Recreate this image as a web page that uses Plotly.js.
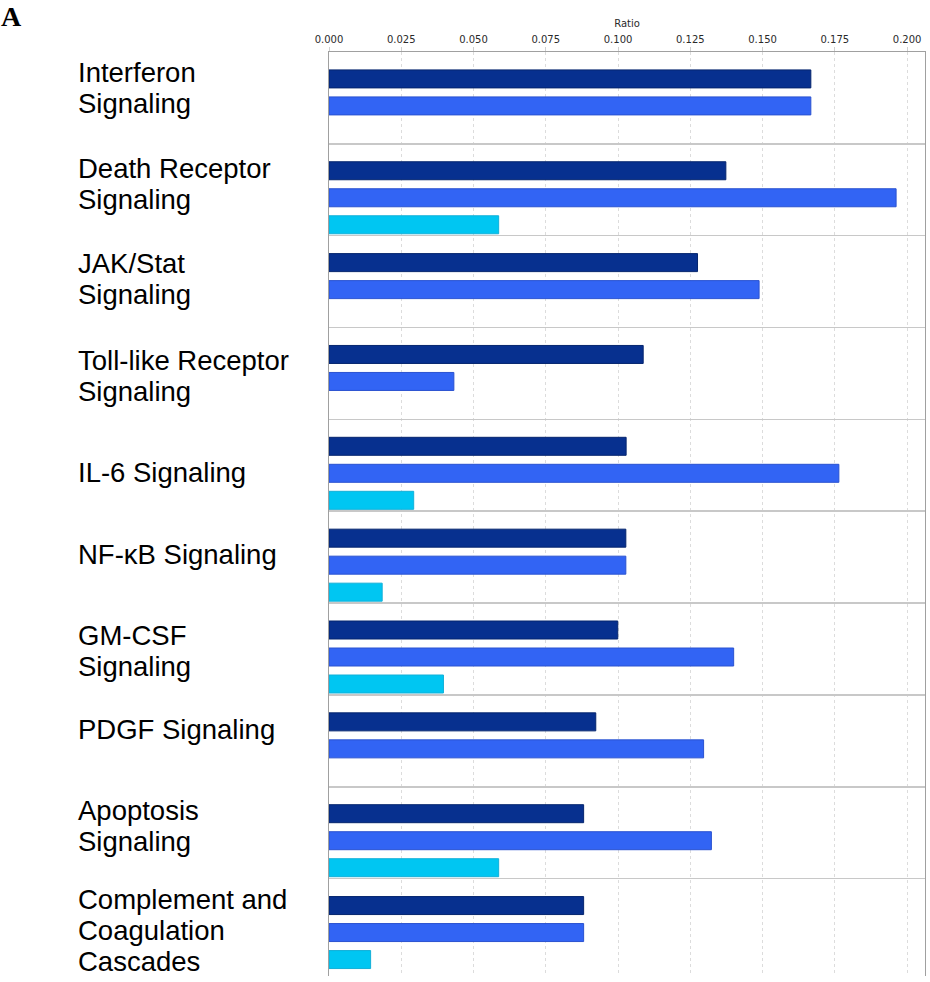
<!DOCTYPE html>
<html>
<head>
<meta charset="utf-8">
<script src="https://cdn.plot.ly/plotly-3.0.1.min.js"></script>
<style>
  html, body { margin: 0; padding: 0; background: #ffffff; }
  #chart { width: 930px; height: 982px; }
</style>
</head>
<body>
<div id="chart"></div>
<script>
// ---- Data ----
const categories = [
  'Interferon Signaling',
  'Death Receptor Signaling',
  'JAK/Stat Signaling',
  'Toll-like Receptor Signaling',
  'IL-6 Signaling',
  'NF-κB Signaling',
  'GM-CSF Signaling',
  'PDGF Signaling',
  'Apoptosis Signaling',
  'Complement and Coagulation Cascades'
];
const tickLabels = [
  'Interferon<br>Signaling',
  'Death Receptor<br>Signaling',
  'JAK/Stat<br>Signaling',
  'Toll-like Receptor<br>Signaling',
  'IL-6 Signaling',
  'NF-κB Signaling',
  'GM-CSF<br>Signaling',
  'PDGF Signaling',
  'Apoptosis<br>Signaling',
  'Complement and<br>Coagulation<br>Cascades'
];
const seriesDark = [0.1667, 0.1373, 0.1275, 0.1087, 0.1028, 0.1027, 0.0999, 0.0923, 0.0881, 0.0881];
const seriesBlue = [0.1667, 0.1962, 0.1488, 0.0432, 0.1764, 0.1027, 0.1400, 0.1296, 0.1323, 0.0881];
const seriesCyan = [null, 0.0587, null, null, 0.0293, 0.0184, 0.0396, null, 0.0587, 0.0144];
const xTickVals = [0, 0.025, 0.05, 0.075, 0.1, 0.125, 0.15, 0.175, 0.2];
const xTickText = ['0.000', '0.025', '0.050', '0.075', '0.100', '0.125', '0.150', '0.175', '0.200'];
const axisTitle = 'Ratio';
const panelLetter = 'A';

// ---- Style ----
const style = {
  colors: ['#07308f', '#3264f4', '#00c6f2'],
  lineColors: ['#05256e', '#2a52d0', '#12b0d8'],
  barWidth: 0.196,
  offsets: [-0.305, -0.011, 0.283],
  labelFont: { family: 'Liberation Sans, Arial, sans-serif', size: 27.5, color: '#000' },
  linePitch: 31,
  labelShift: [-9.7, -6, -2.4, 2.6, 7, -3, 2, -11.5, -6.3, 6],
  marginL: 329, marginT: 52, plotW: 596, plotH: 924
};

const seriesList = [seriesDark, seriesBlue, seriesCyan];
const traces = seriesList.map((vals, k) => ({
  type: 'bar',
  orientation: 'h',
  y: categories,
  x: vals,
  width: style.barWidth,
  offset: style.offsets[k],
  marker: { color: style.colors[k], line: { color: style.lineColors[k], width: 1 } },
  showlegend: false,
  hoverinfo: 'x+y'
}));

const annotations = [];
categories.forEach((cat, i) => {
  const lines = tickLabels[i].split('<br>');
  const n = lines.length;
  lines.forEach((ln, j) => {
    const c = style.labelShift[i] + (j - (n - 1) / 2) * style.linePitch;
    annotations.push({
      xref: 'paper', yref: 'y',
      x: (77 - style.marginL) / style.plotW,
      y: cat,
      xanchor: 'left', yanchor: 'middle',
      yshift: -c,
      text: ln,
      showarrow: false,
      borderpad: 0,
      font: style.labelFont
    });
  });
});
annotations.push({
  xref: 'paper', yref: 'paper',
  x: -style.marginL / style.plotW, y: 1 + style.marginT / style.plotH,
  xanchor: 'left', yanchor: 'top',
  text: '<b>' + panelLetter + '</b>',
  showarrow: false,
  borderpad: 0,
  font: { family: 'Liberation Serif, Times New Roman, serif', size: 28, color: '#000' }
});

const layout = {
  width: 930, height: 982,
  margin: { l: style.marginL, r: 5, t: style.marginT, b: 6, pad: 0 },
  paper_bgcolor: '#ffffff', plot_bgcolor: '#ffffff',
  barmode: 'overlay',
  showlegend: false,
  font: { family: 'DejaVu Sans, Verdana, sans-serif', size: 10, color: '#333' },
  xaxis: {
    side: 'top',
    range: [0, 0.2062],
    autorange: false,
    tickvals: xTickVals,
    ticktext: xTickText,
    tickfont: { family: 'DejaVu Sans, Verdana, sans-serif', size: 10, color: '#2a2a2a' },
    ticks: 'outside', ticklen: 4, tickcolor: '#d0d0d0', tickwidth: 1,
    showgrid: true, gridcolor: '#dcdcdc', griddash: 'dot', gridwidth: 1,
    zeroline: false,
    showline: true, linecolor: '#a0a0a0', linewidth: 1, mirror: false,
    title: { text: axisTitle, font: { family: 'DejaVu Sans, Verdana, sans-serif', size: 10, color: '#2a2a2a' }, standoff: 4 },
    automargin: false,
    fixedrange: true
  },
  yaxis: {
    type: 'category',
    categoryorder: 'array',
    categoryarray: categories,
    autorange: false,
    range: [9.56, -0.5],
    tickson: 'boundaries',
    ticks: '',
    showticklabels: false,
    showgrid: true, gridcolor: '#c8c8c8', gridwidth: 1.5,
    zeroline: false,
    showline: true, linecolor: '#a0a0a0', linewidth: 1, mirror: true,
    automargin: false,
    fixedrange: true
  },
  annotations: annotations
};

Plotly.newPlot('chart', traces, layout, { staticPlot: true, displayModeBar: false });
</script>
</body>
</html>
